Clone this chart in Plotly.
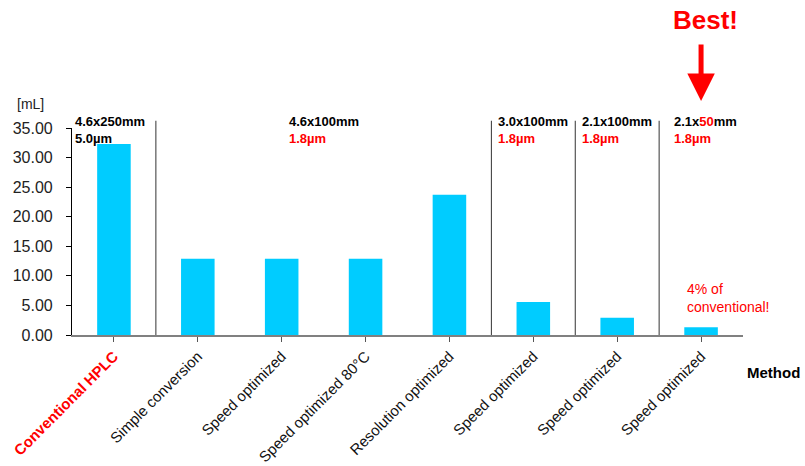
import plotly.graph_objects as go

methods = ["Conventional HPLC", "Simple conversion", "Speed optimized", "Speed optimized 80°C",
           "Resolution optimized", "Speed optimized", "Speed optimized", "Speed optimized"]
volumes = [32.3, 12.9, 12.9, 12.9, 23.7, 5.6, 2.9, 1.3]
y_ticks = [0, 5, 10, 15, 20, 25, 30, 35]

# column groups: (first index, last index, dimension line, particle line, particle red?)
groups = [
    (0, 0, "4.6x250mm", "5.0µm", False),
    (1, 4, "4.6x100mm", "1.8µm", True),
    (5, 5, "3.0x100mm", "1.8µm", True),
    (6, 6, "2.1x100mm", "1.8µm", True),
    (7, 7, "2.1x<span style='color:#ff0000'>50</span>mm", "1.8µm", True),
]
separators_after = [0, 4, 5, 6]

cats = list(range(len(methods)))
ticktext = []
for i, m in enumerate(methods):
    if i == 0:
        ticktext.append("<b><span style='color:#ff0000'>%s</span></b>" % m)
    else:
        ticktext.append(m)

fig = go.Figure()
fig.add_trace(go.Bar(x=cats, y=volumes, marker=dict(color="#00CCFF", line=dict(width=0)),
                     width=0.4, showlegend=False))

n = len(methods)
shapes = []
for s in separators_after:
    xd = (s + 1) / n
    shapes.append(dict(type="line", xref="x domain", yref="paper", x0=xd, x1=xd,
                       y0=0, y1=1.035, line=dict(color="#333333", width=1)))

annotations = []
for (a, b, dim, part, red) in groups:
    col = "#ff0000" if red else "#000000"
    txt = "<b>%s</b><br><b><span style='color:%s'>%s</span></b>" % (dim, col, part)
    if a == 1:
        annotations.append(dict(x=(a + b) / 2, xref="x", y=1.075, yref="paper", text=txt,
                                showarrow=False, xanchor="center", yanchor="top", align="left",
                                font=dict(size=13, color="#000000")))
    else:
        shift = 1 if a == 0 else (5 if a < 7 else 13)
        annotations.append(dict(x=a - 0.5, xref="x", y=1.075, yref="paper", text=txt,
                                showarrow=False, xanchor="left", yanchor="top", align="left",
                                xshift=shift, font=dict(size=13, color="#000000")))

# Best! arrow
annotations.append(dict(x=7, xref="x", y=1.13, yref="paper", text="", showarrow=True,
                        ax=0, ay=-58, arrowhead=2, arrowsize=1.1, arrowwidth=5,
                        arrowcolor="#ff0000"))
annotations.append(dict(x=7, xref="x", y=1.52, yref="paper", text="<b>Best!</b>",
                        showarrow=False, xanchor="center", yanchor="middle", xshift=4,
                        font=dict(size=26, color="#ff0000")))
annotations.append(dict(x=7, xref="x", y=volumes[7], yref="y", text="4% of<br>conventional!",
                        showarrow=False, xanchor="left", yanchor="bottom", align="left",
                        xshift=-16, yshift=10, font=dict(size=14, color="#ff0000")))
annotations.append(dict(x=1, xref="paper", y=-0.18, yref="paper", text="<b>Method</b>",
                        showarrow=False, xanchor="left", yanchor="middle", xshift=2,
                        font=dict(size=15, color="#000000")))
annotations.append(dict(x=-0.085, xref="paper", y=1.116, yref="paper", text="[mL]",
                        showarrow=False, xanchor="left", yanchor="middle",
                        font=dict(size=14, color="#222222")))

fig.update_layout(
    width=805, height=466,
    margin=dict(l=72, r=62, t=128, b=131),
    paper_bgcolor="white", plot_bgcolor="white",
    font=dict(family="Arial, Liberation Sans, sans-serif", size=14, color="#222222"),
    bargap=0.6,
    shapes=shapes,
    annotations=annotations,
    xaxis=dict(tickmode="array", tickvals=cats, ticktext=ticktext, tickangle=-45,
               range=[-0.5, n - 0.5], showline=True, linecolor="#808080", linewidth=1.5,
               ticks="outside", ticklen=5, tickcolor="#555555", tickson="boundaries",
               showgrid=False, zeroline=False, automargin=False,
               tickfont=dict(size=15, color="#111111")),
    yaxis=dict(range=[0, 35], tickvals=y_ticks, tickformat=".2f", showgrid=False,
               zeroline=False, showline=True, linecolor="#000000", linewidth=1.2,
               ticks="outside", ticklen=5, tickcolor="#000000", ticklabelstandoff=10,
               automargin=False, tickfont=dict(size=16, color="#222222")),
)

fig.write_html("out.html")
